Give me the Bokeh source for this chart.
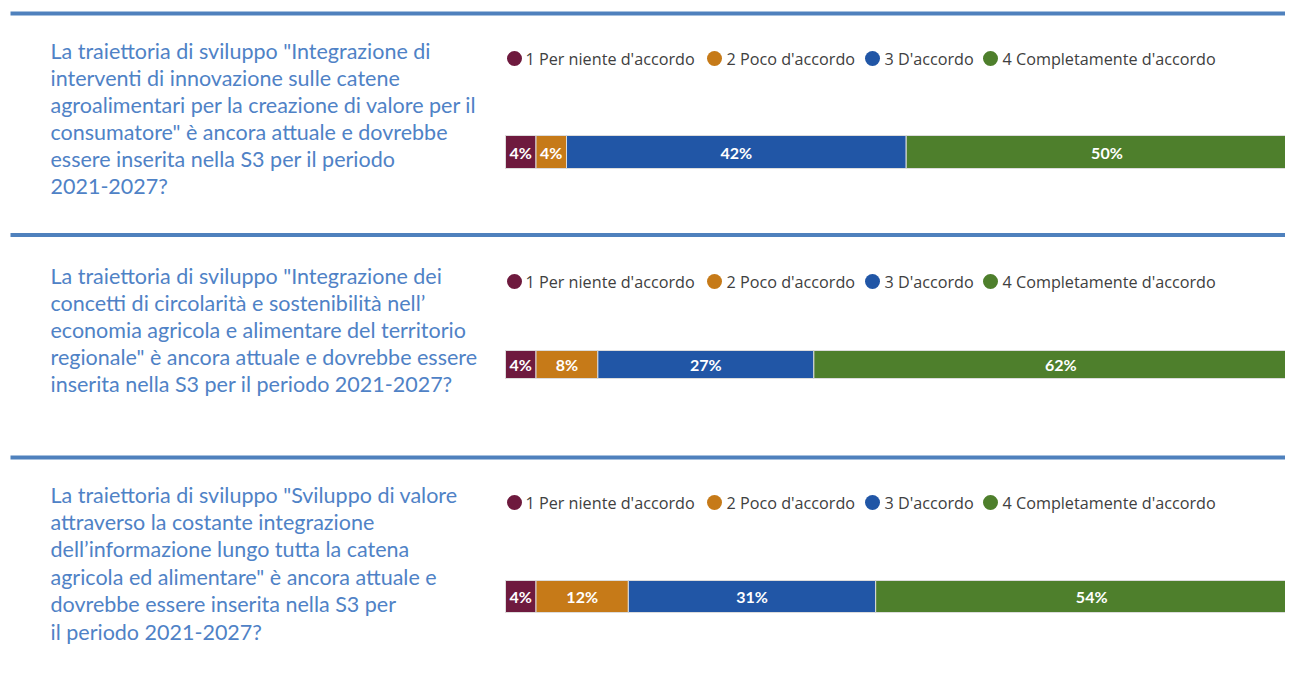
from bokeh.plotting import figure
from bokeh.models import Range1d, ColumnDataSource
from bokeh.core.properties import value
from bokeh.embed import file_html
from bokeh.resources import INLINE

# ---------------- data ----------------
categories = ["1 Per niente d'accordo", "2 Poco d'accordo", "3 D'accordo", "4 Completamente d'accordo"]
colors = ["#6E1A3E", "#C67A18", "#2156A6", "#4E7F2C"]

question_1 = [
    "La traiettoria di sviluppo \"Integrazione di",
    "interventi di innovazione sulle catene",
    "agroalimentari per la creazione di valore per il",
    "consumatore\" è ancora attuale e dovrebbe",
    "essere inserita nella S3 per il periodo",
    "2021-2027?",
]
question_2 = [
    "La traiettoria di sviluppo \"Integrazione dei",
    "concetti di circolarità e sostenibilità nell’",
    "economia agricola e alimentare del territorio",
    "regionale\" è ancora attuale e dovrebbe essere",
    "inserita nella S3 per il periodo 2021-2027?",
]
question_3 = [
    "La traiettoria di sviluppo \"Sviluppo di valore",
    "attraverso la costante integrazione",
    "dell’informazione lungo tutta la catena",
    "agricola ed alimentare\" è ancora attuale e",
    "dovrebbe essere inserita nella S3 per",
    "il periodo 2021-2027?",
]

shares_q1 = [3.8, 3.8, 42.3, 50.0]
shares_q2 = [3.8, 7.7, 26.9, 61.5]
shares_q3 = [3.8, 11.5, 30.8, 53.8]

questions = [question_1, question_2, question_3]
shares = [shares_q1, shares_q2, shares_q3]

# ---------------- layout (screen-like) ----------------
PX_PER_PCT = 8.03
BAR_X0 = 505.0
FRAME_LEFT = 0.0
W = 1285
H = 657


def sx(px):
    return (px - BAR_X0) / PX_PER_PCT


panel_line_y = [13, 234.5, 457]
text_first_y = [50, 275, 494]
text_step = [27, 27, 27.4]
legend_y = [58, 281, 502]
bar_y = [151.5, 364, 596]
bar_h = [33, 28, 32]
legend_circle_px = [514, 714, 872, 990]
legend_text_px = [525, 726, 884, 1002]

p = figure(width=W, height=H, output_backend="svg", toolbar_location=None,
           x_range=Range1d(sx(FRAME_LEFT), sx(FRAME_LEFT + W)),
           y_range=Range1d(FRAME_LEFT + H, FRAME_LEFT),
           min_border=0, min_border_left=0, min_border_right=0,
           min_border_top=0, min_border_bottom=0)
p.axis.visible = False
p.grid.visible = False
p.outline_line_color = None
p.background_fill_color = "white"
p.border_fill_color = "white"

# panel separator lines
p.segment(x0=[sx(10)] * 3, x1=[sx(1300)] * 3, y0=panel_line_y, y1=panel_line_y,
          line_color="#4F81BD", line_width=4)

for i in range(3):
    # question text
    lines = questions[i]
    ys = [text_first_y[i] + k * text_step[i] for k in range(len(lines))]
    p.text(x=[sx(50)] * len(lines), y=ys, text=lines,
           text_font=value("Lato"), text_font_size="21.5px",
           text_color="#4F82C6", text_baseline="middle", text_align="left")

    # legend
    p.scatter(x=[sx(v) for v in legend_circle_px], y=[legend_y[i]] * 4,
              size=15, marker="circle", fill_color=colors, line_color=None)
    p.text(x=[sx(v) for v in legend_text_px], y=[legend_y[i]] * 4, text=categories,
           text_font=value("Open Sans"), text_font_size="16.2px",
           text_color="#404040", text_baseline="middle", text_align="left")

    # stacked bar
    vals = shares[i]
    lefts, rights = [], []
    acc = 0.0
    for v in vals:
        lefts.append(acc)
        acc += v
        rights.append(acc)
    src = ColumnDataSource(dict(
        y=[bar_y[i]] * 4, left=lefts, right=rights, color=colors,
        mid=[(a + b) / 2 for a, b in zip(lefts, rights)],
        label=[f"{int(v + 0.5)}%" for v in vals],
    ))
    p.hbar(y="y", left="left", right="right", height=bar_h[i], fill_color="color",
           line_color="#dcdcdc", line_width=1, source=src)
    p.text(x="mid", y="y", text="label", source=src,
           text_font=value("Lato"), text_font_size="16px", text_font_style="bold",
           text_color="white", text_baseline="middle", text_align="center")

open("out.html", "w").write(file_html(p, INLINE))
